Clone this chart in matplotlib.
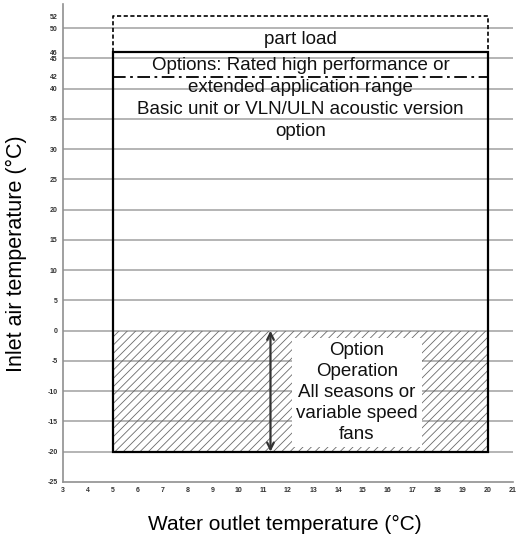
import matplotlib.pyplot as plt
from matplotlib.patches import Rectangle

plt.rcParams['font.family'] = ['Liberation Sans', 'DejaVu Sans']
plt.rcParams['axes.unicode_minus'] = False
plt.rcParams['hatch.linewidth'] = 0.6

# operating envelope (water outlet temp in degC, inlet air temp in degC)
water_min, water_max = 5, 20
air_min = -20
air_max_full = 46
air_max_partload = 52
air_max_options = 42
air_min_standard = 0
arrow_x = 11.3

x_ticks = list(range(3, 22))
y_ticks = [-25, -20, -15, -10, -5, 0, 5, 10, 15, 20, 25, 30, 35, 40, 42, 45, 46, 50, 52]
grid_levels = [-20, -15, -10, -5, 0, 5, 10, 15, 20, 25, 30, 35, 40, 45, 50]

upper_texts = [
    ("part load", 48.1),
    ("Options: Rated high performance or", 43.9),
    ("extended application range", 40.2),
    ("Basic unit or VLN/ULN acoustic version", 36.5),
    ("option", 32.9),
]
option_text = "Option\nOperation\nAll seasons or\nvariable speed\nfans"
option_pos = (14.76, -10.2)

fig = plt.figure(figsize=(5.17, 5.34), dpi=100)
ax = fig.add_axes([0.122, 0.0975, 0.870, 0.895])
ax.set_xlim(3, 21)
ax.set_ylim(-25, 54)

for g in grid_levels:
    ax.axhline(g, color='#a8a8a8', lw=1.2, zorder=0)

# hatched winter option zone
ax.add_patch(Rectangle((water_min, air_min), water_max - water_min, air_min_standard - air_min,
                       facecolor='none', edgecolor='#6a6a6a', hatch='////', lw=0, zorder=1))

# full load envelope
ax.add_patch(Rectangle((water_min, air_min), water_max - water_min, air_max_full - air_min,
                       facecolor='none', edgecolor='black', lw=1.6, zorder=3))
# part load extension
ax.plot([water_min, water_min, water_max, water_max],
        [air_max_full, air_max_partload, air_max_partload, air_max_full],
        color='black', lw=1.2, ls=(0, (2.5, 1.5)), zorder=3)
# options limit
ax.hlines(air_max_options, water_min, water_max, color='black', lw=1.3,
          linestyles=(0, (7, 2.5, 1.5, 2.5)), zorder=3)

xc = (water_min + water_max) / 2
for txt, y in upper_texts:
    ax.text(xc, y, txt, ha='center', va='center', fontsize=13.5, color='#111111', zorder=4)

ax.annotate('', xy=(arrow_x, air_min_standard), xytext=(arrow_x, air_min),
            arrowprops=dict(arrowstyle='<->', color='#333333', lw=1.6,
                            mutation_scale=12, shrinkA=0, shrinkB=0), zorder=4)
ax.text(*option_pos, option_text, ha='center', va='center', fontsize=13.5,
        linespacing=1.3, color='#111111', zorder=4,
        bbox=dict(facecolor='white', edgecolor='none', pad=3))

ax.set_xticks(x_ticks)
ax.set_yticks(y_ticks)
ax.tick_params(length=0, labelsize=5, pad=4, colors='#333333')
for lbl in ax.get_xticklabels() + ax.get_yticklabels():
    lbl.set_fontweight('bold')
for s in ['top', 'right']:
    ax.spines[s].set_visible(False)
for s in ['left', 'bottom']:
    ax.spines[s].set_color('#909090')
    ax.spines[s].set_linewidth(1.2)

fig.text(0.551, 0.0075, "Water outlet temperature (°C)", ha='center', va='baseline', fontsize=15)
fig.text(0.032, 0.525, "Inlet air temperature (°C)", ha='center', va='center',
         rotation=90, fontsize=15.5)

fig.savefig('out.png', dpi=100)
